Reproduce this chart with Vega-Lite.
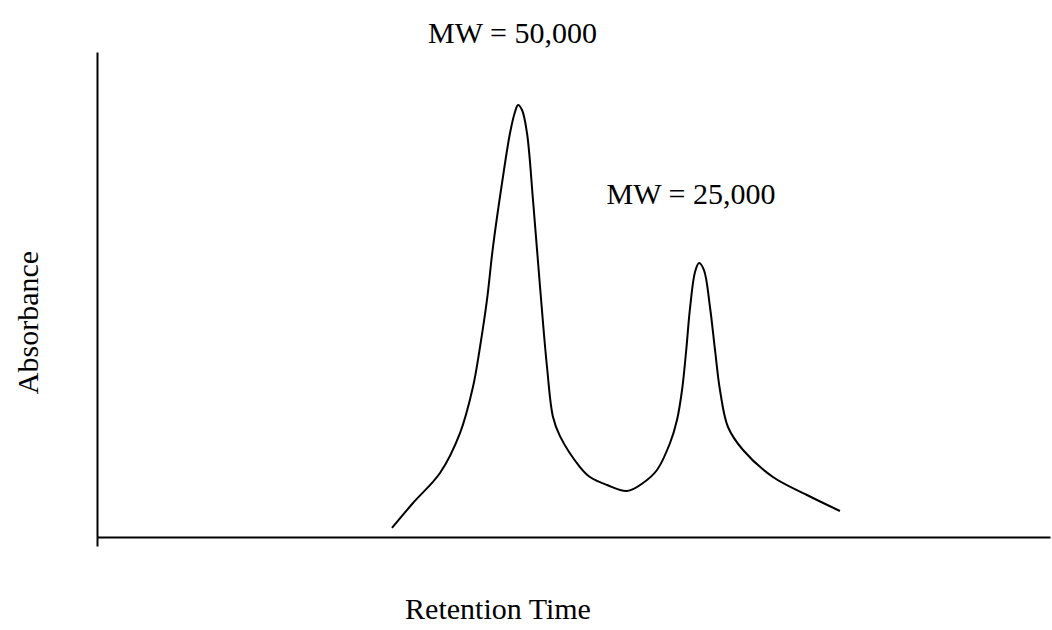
{
  "$schema": "https://vega.github.io/schema/vega-lite/v6.json",
  "width": 953,
  "height": 485,
  "autosize": "none",
  "padding": {"left": 97, "top": 52, "right": 2, "bottom": 93},
  "background": "white",
  "config": {
    "view": {"stroke": null},
    "font": "Liberation Serif"
  },
  "datasets": {
    "curve": [
      {"t": 30.95, "a": 1.86},
      {"t": 33.16, "a": 7.01},
      {"t": 35.99, "a": 13.20},
      {"t": 38.09, "a": 21.44},
      {"t": 39.45, "a": 30.93},
      {"t": 40.19, "a": 39.18},
      {"t": 40.92, "a": 48.87},
      {"t": 41.55, "a": 59.79},
      {"t": 42.50, "a": 72.99},
      {"t": 43.34, "a": 83.30},
      {"t": 43.86, "a": 87.63},
      {"t": 44.18, "a": 89.07},
      {"t": 44.60, "a": 88.04},
      {"t": 45.12, "a": 83.30},
      {"t": 45.75, "a": 69.48},
      {"t": 46.49, "a": 51.55},
      {"t": 47.22, "a": 35.05},
      {"t": 47.85, "a": 24.74},
      {"t": 48.58, "a": 20.80},
      {"t": 50.68, "a": 14.43},
      {"t": 51.73, "a": 12.37},
      {"t": 53.52, "a": 10.72},
      {"t": 55.61, "a": 9.48},
      {"t": 57.29, "a": 11.13},
      {"t": 58.76, "a": 13.81},
      {"t": 60.13, "a": 19.38},
      {"t": 60.86, "a": 24.12},
      {"t": 61.39, "a": 30.31},
      {"t": 61.81, "a": 38.14},
      {"t": 62.23, "a": 47.22},
      {"t": 62.75, "a": 54.64},
      {"t": 63.17, "a": 56.49},
      {"t": 63.69, "a": 55.05},
      {"t": 64.32, "a": 47.42},
      {"t": 64.85, "a": 38.56},
      {"t": 65.37, "a": 30.31},
      {"t": 66.21, "a": 22.68},
      {"t": 67.79, "a": 17.94},
      {"t": 70.93, "a": 12.37},
      {"t": 74.50, "a": 8.66},
      {"t": 77.96, "a": 5.36}
    ],
    "labels": [
      {"t": 43.6, "a": 101.86, "label": "MW = 50,000"},
      {"t": 62.33, "a": 68.66, "label": "MW = 25,000"}
    ]
  },
  "layer": [
    {
      "data": {"name": "curve"},
      "mark": {"type": "line", "interpolate": "catmull-rom", "color": "black", "strokeWidth": 2},
      "encoding": {
        "x": {
          "field": "t", "type": "quantitative",
          "scale": {"domain": [0, 100], "nice": false, "zero": false},
          "axis": {
            "title": "Retention Time",
            "titleFont": "Liberation Serif",
            "titleFontSize": 30,
            "titleFontWeight": "normal",
            "titleColor": "black",
            "titleBaseline": "alphabetic",
            "titleAlign": "center",
            "titleX": 400.5,
            "titleY": 81,
            "labels": false,
            "grid": false,
            "values": [0],
            "ticks": true,
            "tickSize": 9,
            "tickWidth": 2,
            "tickColor": "black",
            "domainColor": "black",
            "domainWidth": 2
          }
        },
        "y": {
          "field": "a", "type": "quantitative",
          "scale": {"domain": [0, 100], "nice": false, "zero": false},
          "axis": {
            "title": "Absorbance",
            "titleFont": "Liberation Serif",
            "titleFontSize": 30,
            "titleFontWeight": "normal",
            "titleColor": "black",
            "titleBaseline": "alphabetic",
            "titleAlign": "center",
            "titleAngle": -90,
            "titleX": -60,
            "titleY": 270,
            "labels": false,
            "ticks": false,
            "grid": false,
            "domainColor": "black",
            "domainWidth": 2
          }
        }
      }
    },
    {
      "data": {"name": "labels"},
      "mark": {"type": "text", "font": "Liberation Serif", "fontSize": 30, "color": "black", "baseline": "alphabetic", "align": "center"},
      "encoding": {
        "x": {"field": "t", "type": "quantitative"},
        "y": {"field": "a", "type": "quantitative"},
        "text": {"field": "label"}
      }
    }
  ]
}
